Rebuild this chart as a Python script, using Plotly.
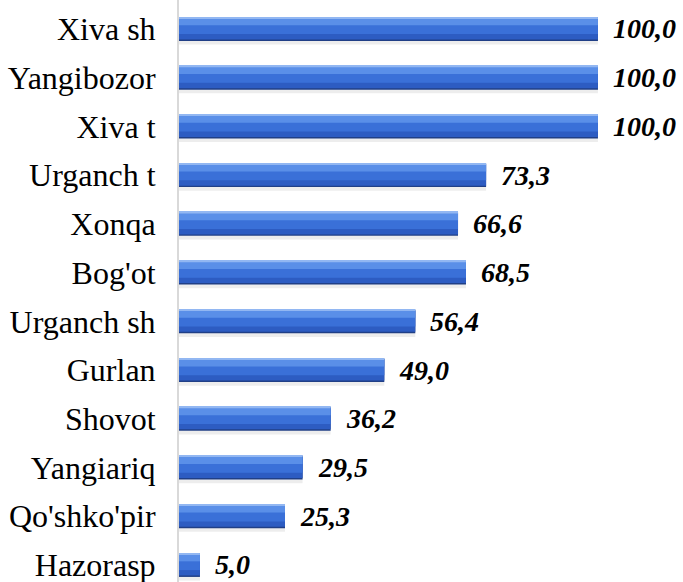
import plotly.graph_objects as go

tumanlar = ['Xiva sh', 'Yangibozor', 'Xiva t', 'Urganch t', 'Xonqa', "Bog'ot",
            'Urganch sh', 'Gurlan', 'Shovot', 'Yangiariq', "Qo'shko'pir", 'Hazorasp']
qiymatlar = [100.0, 100.0, 100.0, 73.3, 66.6, 68.5, 56.4, 49.0, 36.2, 29.5, 25.3, 5.0]
yorliqlar = [f'{v:.1f}'.replace('.', ',') for v in qiymatlar]

shrift = 'Liberation Serif, Times New Roman, serif'

fig = go.Figure()

# bar layers to fake the bevel/gradient look
qatlamlar = [
    ('rgba(0,0,0,0.07)', -0.20, 0.52),   # soft shadow
    ('#203f86', -0.245, 0.49),           # dark edge
    ('#2d5cc2', -0.225, 0.44),           # lower body
    ('#3a70d8', -0.225, 0.33),           # body
    ('#5a8fe8', -0.225, 0.15),           # upper band
    ('#92b7f2', -0.245, 0.03),           # top highlight
]
for rang, ofset, qalinlik in qatlamlar:
    fig.add_trace(go.Bar(x=qiymatlar, y=tumanlar, orientation='h',
                         marker=dict(color=rang, line=dict(width=0)),
                         offset=ofset, width=qalinlik,
                         hoverinfo='skip', showlegend=False))

for v, t, n in zip(qiymatlar, tumanlar, yorliqlar):
    fig.add_annotation(x=v, y=t, text=n, showarrow=False, xanchor='left', xshift=13,
                       font=dict(family=shrift, size=28, color='black',
                                 weight='bold', style='italic'))

fig.update_xaxes(range=[0, 120.3], visible=False, automargin=False)
fig.update_yaxes(range=[11.349, -0.595], showline=True, linecolor='#d9d9d9', linewidth=2,
                 showgrid=False, zeroline=False, ticks='', ticklabelstandoff=15,
                 automargin=False,
                 tickfont=dict(family=shrift, size=32, color='black'))
fig.update_layout(barmode='overlay', width=683, height=582,
                  margin=dict(l=179, r=0, t=0, b=0, pad=0),
                  plot_bgcolor='white', paper_bgcolor='white')
# body has an 8px default margin in the page; drop it so the chart sits at 0,0
fig.write_html("out.html", config={'displayModeBar': False},
               post_script="document.body.style.margin='0';document.body.style.overflow='hidden';")
